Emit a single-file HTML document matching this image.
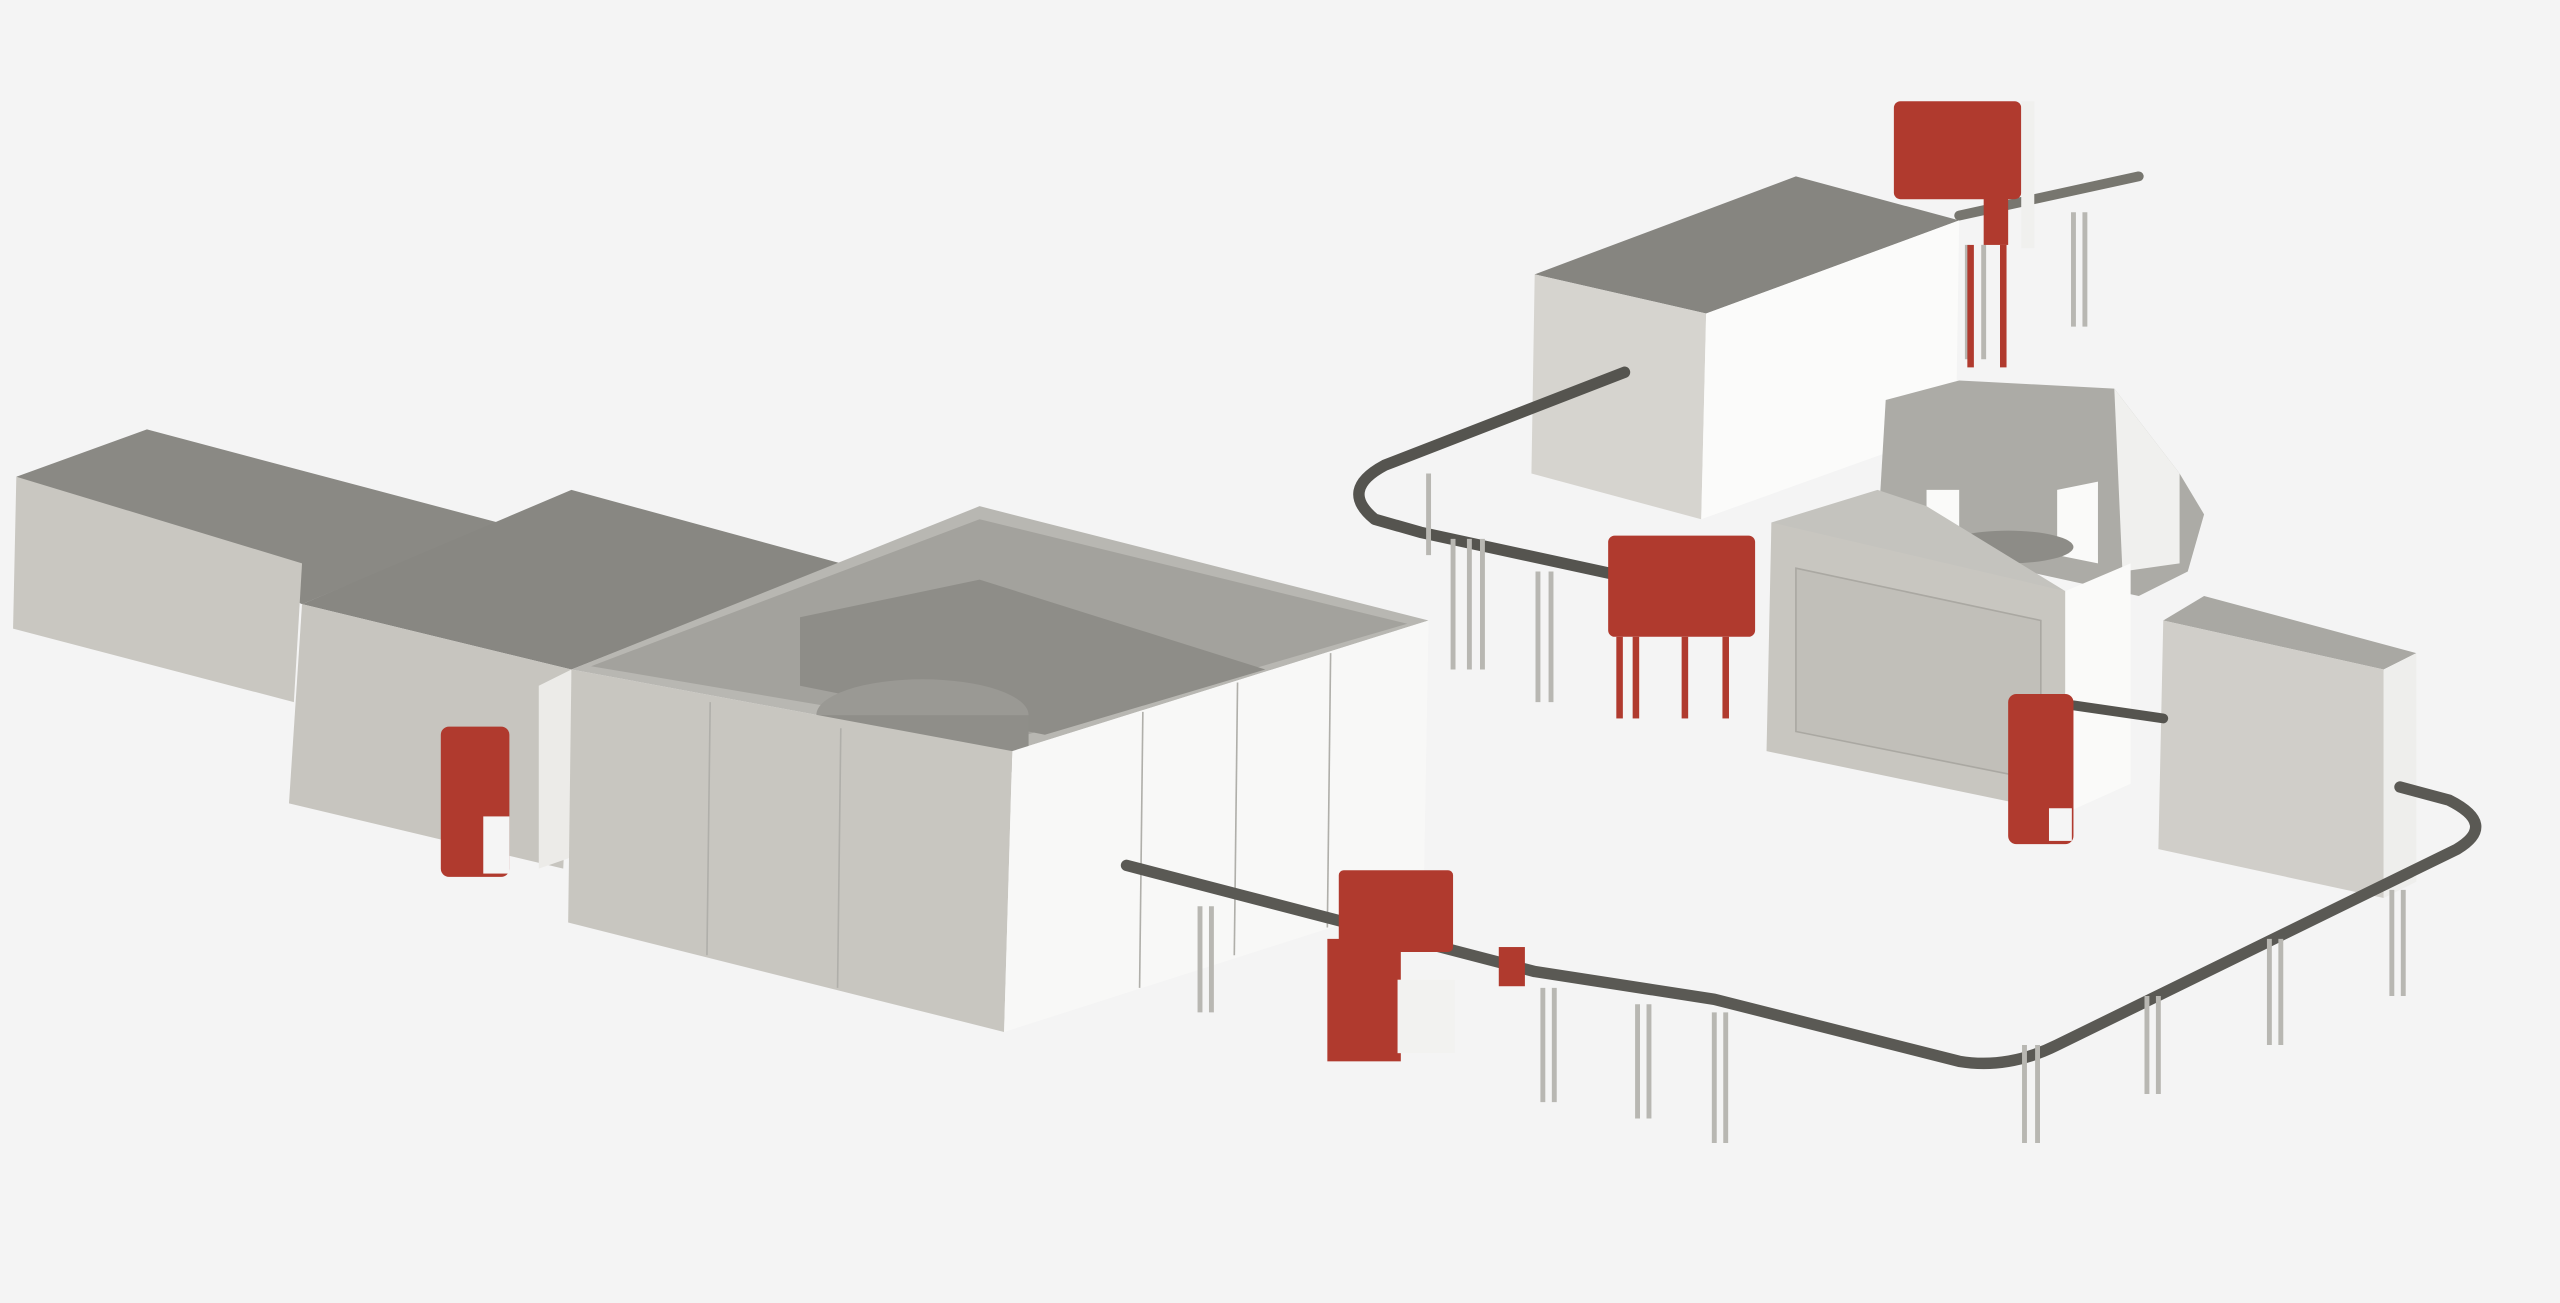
<!DOCTYPE html>
<html><head><style>html,body{margin:0;padding:0;background:#f4f4f4}svg{display:block}</style></head>
<body>
<svg width="2560" height="1303" viewBox="0 0 1568 798" preserveAspectRatio="none" xmlns="http://www.w3.org/2000/svg">
<rect width="1568" height="798" fill="#f4f4f4"/>
<!-- Left block 1 -->
<polygon points="10,292 90,263 305,320 185,370" fill="#8a8984"/>
<polygon points="10,292 185,345 180,430 8,385" fill="#c9c7c1"/>
<!-- Block 2 -->
<polygon points="185,370 350,300 515,345 350,410" fill="#888782"/>
<polygon points="185,370 350,410 345,532 177,492" fill="#c7c5bf"/>
<polygon points="330,420 350,410 350,525 330,532" fill="#ecebe8"/>
<!-- Big open box -->
<polygon points="350,410 600,310 875,380 620,460" fill="#b8b7b2"/>
<polygon points="362,408 600,318 862,382 622,452" fill="#a3a29d"/>
<polygon points="490,378 600,355 775,410 640,450 490,420" fill="#8e8d88"/>
<ellipse cx="565" cy="438" rx="65" ry="22" fill="#9a9994"/>
<rect x="500" y="438" width="130" height="35" fill="#8f8e89"/>
<polygon points="350,410 620,460 615,632 348,565" fill="#c8c6c0"/>
<polygon points="620,460 875,380 872,550 615,632" fill="#f8f8f7"/>
<g stroke="#b0afaa" stroke-width="1"><line x1="435" y1="430" x2="433" y2="585"/><line x1="515" y1="446" x2="513" y2="605"/><line x1="700" y1="436" x2="698" y2="605"/><line x1="758" y1="418" x2="756" y2="585"/><line x1="815" y1="400" x2="813" y2="568"/></g>
<!-- Upper box -->
<polygon points="940,168 1100,108 1200,135 1045,192" fill="#868580"/>
<polygon points="940,168 1045,192 1042,318 938,290" fill="#d6d4cf"/>
<polygon points="1045,192 1200,135 1198,262 1042,318" fill="#fbfbfa"/>
<!-- Rotary machine -->
<polygon points="1155,245 1200,233 1295,238 1335,290 1350,315 1340,350 1310,365 1150,330" fill="#acaba6"/>
<polygon points="1295,238 1335,290 1335,345 1300,350" fill="#f0f0ee"/>
<polygon points="1180,300 1200,300 1200,340 1180,336" fill="#fafaf9"/>
<polygon points="1260,300 1285,295 1285,345 1260,340" fill="#fafaf9"/>
<ellipse cx="1230" cy="335" rx="40" ry="10" fill="#8d8c87"/>
<polygon points="1085,320 1150,300 1180,310 1265,362 1085,330" fill="#c4c3be"/>
<polygon points="1085,320 1265,362 1265,498 1082,460" fill="#c8c6c0"/>
<polygon points="1100,348 1250,380 1250,478 1100,448" fill="#c1bfb9" stroke="#aaa8a2"/>
<polygon points="1265,362 1305,345 1305,480 1265,498" fill="#fafaf9"/>
<!-- Right box -->
<polygon points="1325,380 1350,365 1480,400 1460,410" fill="#a9a8a3"/>
<polygon points="1325,380 1460,410 1460,550 1322,520" fill="#d0cec9"/>
<polygon points="1460,410 1480,400 1480,540 1460,550" fill="#eeeeec"/>
<!-- Conveyors -->
<g fill="none" stroke-linecap="round" stroke-linejoin="round">
<path d="M995,228 L848,285 Q820,300 842,318 L870,326 L990,352" stroke="#55544f" stroke-width="7"/>
<path d="M690,530 L940,595 L1050,612 L1200,650 Q1230,655 1260,640 L1505,520 Q1530,505 1500,490 L1470,482" stroke="#5a5954" stroke-width="7"/>
<path d="M1270,432 L1325,440" stroke="#55544f" stroke-width="6"/>
<path d="M1200,132 L1310,108" stroke="#77766f" stroke-width="6"/>
</g>
<!-- legs -->
<g stroke="#b8b7b2" stroke-width="3" fill="none">
<path d="M735,555v65M742,555v65M945,605v70M952,605v70M1003,615v70M1010,615v70M1050,620v80M1057,620v80M1240,640v60M1248,640v60M1315,610v60M1322,610v60M1390,575v65M1397,575v65M1465,545v65M1472,545v65M890,330v80M900,330v80M908,330v80M942,350v80M950,350v80M1205,150v70M1215,150v70M1270,130v70M1277,130v70M875,290v50"/>
</g>
<!-- Red machines -->
<g fill="#b03a2e">
<rect x="1160" y="62" width="78" height="60" rx="4"/>
<rect x="1215" y="120" width="15" height="30"/>
<rect x="1205" y="150" width="4" height="75"/><rect x="1225" y="150" width="4" height="75"/>
<rect x="985" y="328" width="90" height="62" rx="4"/>
<rect x="990" y="390" width="4" height="50"/><rect x="1000" y="390" width="4" height="50"/><rect x="1030" y="390" width="4" height="50"/><rect x="1055" y="390" width="4" height="50"/>
<rect x="270" y="445" width="42" height="92" rx="5"/>
<rect x="1230" y="425" width="40" height="92" rx="5"/>
<rect x="820" y="533" width="70" height="50" rx="3"/>
<rect x="813" y="575" width="45" height="75"/>
<rect x="918" y="580" width="16" height="24"/>
</g>
<rect x="1238" y="62" width="8" height="90" fill="#f0f0ee"/>
<rect x="296" y="500" width="16" height="35" fill="#f5f5f5"/>
<rect x="856" y="600" width="35" height="45" fill="#f2f2f0"/>
<rect x="1255" y="495" width="14" height="20" fill="#f5f5f5"/>
</svg>
</body></html>
